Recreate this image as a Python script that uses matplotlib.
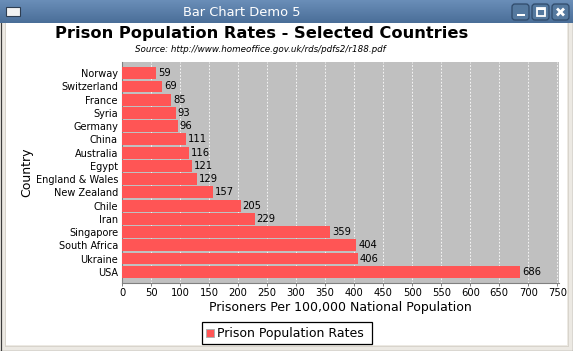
import numpy as np
import matplotlib
matplotlib.use("Agg")
import matplotlib.pyplot as plt
from matplotlib.patches import Rectangle, FancyBboxPatch
from matplotlib.lines import Line2D

countries = ["Norway", "Switzerland", "France", "Syria", "Germany", "China",
             "Australia", "Egypt", "England & Wales", "New Zealand", "Chile",
             "Iran", "Singapore", "South Africa", "Ukraine", "USA"]
rates = [59, 69, 85, 93, 96, 111, 116, 121, 129, 157, 205, 229, 359, 404, 406, 686]
xticks = list(range(0, 751, 50))
series_name = "Prison Population Rates"
title = "Prison Population Rates - Selected Countries"
subtitle = "Source: http://www.homeoffice.gov.uk/rds/pdfs2/r188.pdf"
window_title = "Bar Chart Demo 5"

W, H = 573, 351
DPI = 100
fig = plt.figure(figsize=(W / DPI, H / DPI), dpi=DPI)
fig.patch.set_facecolor("white")
plt.rcParams['font.family'] = ['DejaVu Sans']

def fx(x):
    return x / W

def fy(y):
    return 1 - y / H

def px(p):
    return p * 72 / DPI

# ---- window frame ----
fig.patches.append(Rectangle((0, 0), 1, 1, transform=fig.transFigure,
                             facecolor="#ECE9E3", edgecolor="none", zorder=-10))
fig.patches.append(Rectangle((fx(5), fy(345)), fx(562), 322 / H, transform=fig.transFigure,
                             facecolor="white", edgecolor="none", zorder=-9))
for (x0, y0, x1, y1) in [(0.5, 0, 0.5, 351), (572.5, 0, 572.5, 351), (0, 350.5, 573, 350.5)]:
    fig.add_artist(Line2D([fx(x0), fx(x1)], [fy(y0), fy(y1)], transform=fig.transFigure,
                          color="#3C3C3C", lw=1.2 * 72 / DPI, zorder=-5))
for (x0, y0, x1, y1) in [(4.5, 23, 4.5, 345.5), (567.5, 23, 567.5, 345.5), (4.5, 345.5, 567.5, 345.5)]:
    fig.add_artist(Line2D([fx(x0), fx(x1)], [fy(y0), fy(y1)], transform=fig.transFigure,
                          color="#D8D4CC", lw=0.72, zorder=-5))

# title bar gradient
tb = fig.add_axes([0, fy(23), 1, 23 / H])
grad = np.linspace(0, 1, 50).reshape(-1, 1)
c_top = np.array([0x6A, 0x8E, 0xB8]) / 255
c_bot = np.array([0x4A, 0x6E, 0x98]) / 255
img = c_top[None, None, :] * (1 - grad[:, :, None]) + c_bot[None, None, :] * grad[:, :, None]
tb.imshow(img, aspect="auto", extent=[0, W, 23, 0])
tb.set_xlim(0, W)
tb.set_ylim(23, 0)
tb.axis("off")
tb.text(242, 12, window_title, color="white", ha="center", va="center",
        fontsize=px(13), family="DejaVu Sans")
tb.add_patch(Rectangle((6, 7), 14, 9, facecolor="#F2F2F2", edgecolor="#2E3E52", lw=0.8))
for bx, sym in [(511, "min"), (531, "max"), (551, "close")]:
    tb.add_patch(FancyBboxPatch((bx + 1, 4), 17, 16, boxstyle="round,pad=0,rounding_size=3",
                                facecolor="#55799F", edgecolor="#2F4A6A", lw=0.9))
    cx, cy = bx + 9.5, 12
    if sym == "min":
        tb.add_patch(Rectangle((cx - 4, cy + 2), 8, 2.2, facecolor="white", edgecolor="none"))
    elif sym == "max":
        tb.add_patch(Rectangle((cx - 4, cy - 4), 8, 8, facecolor="none", edgecolor="white", lw=1.3))
        tb.add_patch(Rectangle((cx - 4, cy - 4), 8, 1.5, facecolor="white", edgecolor="none"))
    else:
        tb.plot([cx - 3.5, cx + 3.5], [cy - 3.5, cy + 3.5], color="white", lw=2.0, solid_capstyle="butt")
        tb.plot([cx - 3.5, cx + 3.5], [cy + 3.5, cy - 3.5], color="white", lw=2.0, solid_capstyle="butt")

# ---- chart titles ----
fig.text(fx(262), fy(33.5), title, ha="center", va="center", fontsize=px(16.3),
         fontweight="bold", color="black")
fig.text(fx(260), fy(50), subtitle, ha="center", va="center", fontsize=px(8.8),
         style="italic", color="black")

# ---- plot ----
L, R, T, B = 122, 559, 62, 283
ax = fig.add_axes([fx(L), fy(B), (R - L) / W, (B - T) / H])
ax.set_facecolor("#C0C0C0")
n = len(countries)
y = np.arange(n)
ax.barh(y, rates, height=0.9, color="#FF5555", edgecolor="none", zorder=3)
ax.set_ylim(n - 0.5 + 0.35, -0.5 - 0.35)
ax.set_xlim(0, 753)
ax.set_xticks(xticks)
ax.set_xticklabels([str(t) for t in xticks], fontsize=px(10))
ax.set_yticks(y)
ax.set_yticklabels(countries, fontsize=px(9.8))
ax.tick_params(axis="y", length=0, pad=px(4))
ax.tick_params(axis="x", length=2, width=0.7, color="#808080", pad=px(2))
ax.xaxis.grid(True, color="white", linestyle=(0, (2, 2)), linewidth=0.6, zorder=1)
ax.set_axisbelow(True)
for s in ["top", "right"]:
    ax.spines[s].set_visible(False)
ax.spines["left"].set_color("#808080")
ax.spines["bottom"].set_color("#808080")
ax.spines["left"].set_linewidth(0.8)
ax.spines["bottom"].set_linewidth(0.8)
for yi, v in zip(y, rates):
    ax.text(v + 3, yi, str(v), ha="left", va="center", fontsize=px(10), zorder=4)

fig.text(fx((L + R) / 2), fy(307), "Prisoners Per 100,000 National Population",
         ha="center", va="center", fontsize=px(12.5))
fig.text(fx(27), fy((T + B) / 2), "Country", ha="center", va="center",
         rotation=90, fontsize=px(12.5))

# ---- legend ----
lx0, ly0, lx1, ly1 = 202, 322, 372, 344
fig.patches.append(Rectangle((fx(lx0), fy(ly1)), (lx1 - lx0) / W, (ly1 - ly0) / H,
                             transform=fig.transFigure, facecolor="white",
                             edgecolor="black", lw=0.9))
fig.patches.append(Rectangle((fx(206), fy(337)), 8 / W, 8 / H, transform=fig.transFigure,
                             facecolor="#FF5555", edgecolor="#B0B0B0", lw=0.7))
fig.text(fx(217), fy(333), series_name, ha="left", va="center", fontsize=px(12.5))

fig.savefig("out.png", dpi=DPI)
